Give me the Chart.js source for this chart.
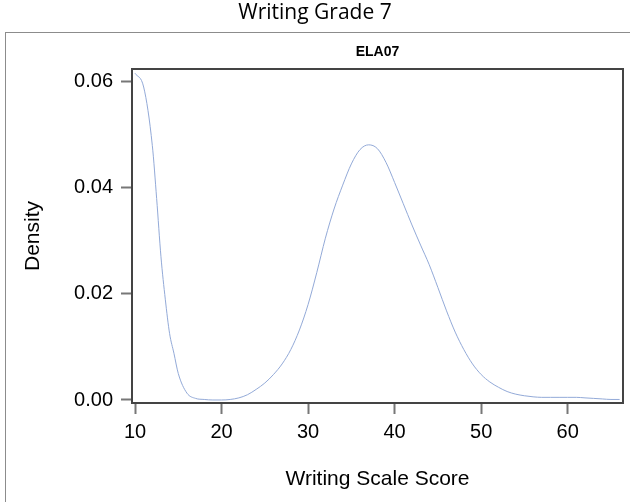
<!DOCTYPE html>
<html>
<head>
<meta charset="utf-8">
<script src="https://cdn.jsdelivr.net/npm/chart.js@4/dist/chart.umd.min.js"></script>
<style>
  html, body { margin: 0; padding: 0; background: #fff; }
  #wrap { width: 630px; height: 502px; }
</style>
</head>
<body>
<div id="wrap"><canvas id="c" width="630" height="502"></canvas></div>
<script>
// Kernel density of writing scale scores, grade 7
const mainTitle = 'Writing Grade 7';
const panelTitle = 'ELA07';
const xTitle = 'Writing Scale Score';
const yTitle = 'Density';

const scores = [10, 11, 12, 12.5, 13, 13.5, 14, 14.5, 15, 16, 17, 18, 19, 20, 21, 22, 23, 24, 25,
  26, 27, 28, 29, 30, 31, 32, 33, 34, 35, 36, 37, 38, 39, 40, 41, 42, 43, 44, 45, 46, 47, 48,
  49, 50, 51, 52, 53, 54, 55, 56, 57, 58, 59, 60, 61, 62, 63, 64, 65, 66];
const density = [0.0616, 0.0590, 0.0480, 0.0380, 0.0270, 0.0190, 0.0125, 0.0088, 0.0050, 0.0013,
  0.0003, 0.0001, 0.0000, 0.0000, 0.0001, 0.0004, 0.0010, 0.0020, 0.0032, 0.0048, 0.0068, 0.0095,
  0.0132, 0.0180, 0.0240, 0.0305, 0.0360, 0.0405, 0.0445, 0.0472, 0.0481, 0.0474, 0.0448, 0.0410,
  0.0370, 0.0330, 0.0292, 0.0255, 0.0212, 0.0168, 0.0128, 0.0095, 0.0068, 0.0048, 0.0034, 0.0024,
  0.0016, 0.0011, 0.0008, 0.0006, 0.0005, 0.0005, 0.0005, 0.0005, 0.0005, 0.0004, 0.0003, 0.0002,
  0.0001, 0.0001];

const xTicks = [10, 20, 30, 40, 50, 60];
const yTicks = [0, 0.02, 0.04, 0.06];

const SANS = '"Liberation Sans", Arial, sans-serif';

// Outer panel border, headings and the plot frame
const decor = {
  id: 'decor',
  beforeDraw(chart) {
    const { ctx, chartArea: a } = chart;
    ctx.save();
    ctx.fillStyle = '#fff';
    ctx.fillRect(0, 0, chart.width, chart.height);
    ctx.strokeStyle = '#8c8c8c';
    ctx.lineWidth = 1;
    ctx.strokeRect(5.5, 32.5, 700, 600);
    ctx.fillStyle = '#000';
    ctx.textAlign = 'center';
    ctx.textBaseline = 'middle';
    ctx.font = '21px "Open Sans", sans-serif';
    ctx.fillText(mainTitle, 315, 13);
    ctx.font = 'bold 14px ' + SANS;
    ctx.fillText(panelTitle, (a.left + a.right) / 2, 52);
    ctx.restore();
  },
  afterDatasetsDraw(chart) {
    const { ctx, chartArea: a } = chart;
    ctx.save();
    ctx.strokeStyle = '#444';
    ctx.lineWidth = 2;
    ctx.strokeRect(a.left, a.top, a.right - a.left, a.bottom - a.top);
    ctx.restore();
  }
};

new Chart(document.getElementById('c'), {
  type: 'line',
  data: {
    datasets: [{
      data: scores.map((s, i) => ({ x: s, y: density[i] })),
      borderColor: '#93aad8',
      borderWidth: 1,
      pointRadius: 0,
      fill: false,
      cubicInterpolationMode: 'monotone'
    }]
  },
  options: {
    responsive: false,
    animation: false,
    devicePixelRatio: 1,
    layout: { padding: { top: 69, right: 7, bottom: 0, left: 0 } },
    plugins: { legend: { display: false }, tooltip: { enabled: false } },
    scales: {
      x: {
        type: 'linear',
        min: 9.653,
        max: 66.39,
        afterFit(scale) { scale.height = 99; },
        afterBuildTicks(scale) { scale.ticks = xTicks.map(v => ({ value: v })); },
        ticks: { color: '#000', font: { family: SANS, size: 20 }, padding: 6, maxRotation: 0,
                 autoSkip: false, callback: v => String(v) },
        grid: { drawOnChartArea: false, drawTicks: true, tickLength: 11, tickColor: '#777', tickWidth: 2 },
        border: { display: false },
        title: { display: true, text: xTitle, color: '#000', font: { family: SANS, size: 21 },
                 padding: { top: 0, bottom: 10.4 } }
      },
      y: {
        type: 'linear',
        min: -0.000566,
        max: 0.062394,
        afterFit(scale) { scale.width = 132; },
        afterBuildTicks(scale) { scale.ticks = yTicks.map(v => ({ value: v })); },
        ticks: { color: '#000', font: { family: SANS, size: 20 }, padding: 8,
                 callback: v => v.toFixed(2) },
        grid: { drawOnChartArea: false, drawTicks: true, tickLength: 11, tickColor: '#777', tickWidth: 2 },
        border: { display: false },
        title: { display: true, text: yTitle, color: '#000', font: { family: SANS, size: 21 },
                 padding: { top: 20.4, bottom: 0 } }
      }
    }
  },
  plugins: [decor]
});
</script>
</body>
</html>
